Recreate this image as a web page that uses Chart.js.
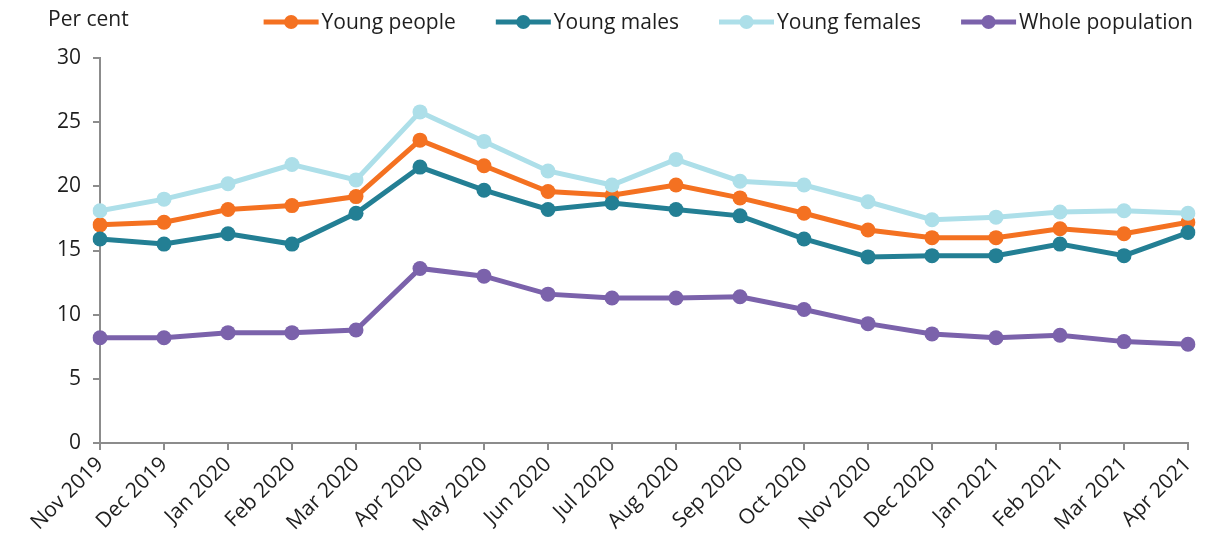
<!DOCTYPE html>
<html>
<head>
<meta charset="utf-8">
<script src="https://cdn.jsdelivr.net/npm/chart.js@4"></script>
<style>
  html, body { margin: 0; padding: 0; background: #ffffff; }
  #wrap { width: 1213px; height: 543px; position: relative; }
</style>
</head>
<body>
<div id="wrap"><canvas id="c" width="1213" height="543"></canvas></div>
<script>
const categories = ['Nov 2019','Dec 2019','Jan 2020','Feb 2020','Mar 2020','Apr 2020','May 2020','Jun 2020','Jul 2020','Aug 2020','Sep 2020','Oct 2020','Nov 2020','Dec 2020','Jan 2021','Feb 2021','Mar 2021','Apr 2021'];
const youngPeople     = [17.0,17.2,18.2,18.5,19.2,23.6,21.6,19.6,19.3,20.1,19.1,17.9,16.6,16.0,16.0,16.7,16.3,17.2];
const youngMales      = [15.9,15.5,16.3,15.5,17.9,21.5,19.7,18.2,18.7,18.2,17.7,15.9,14.5,14.6,14.6,15.5,14.6,16.4];
const youngFemales    = [18.1,19.0,20.2,21.7,20.5,25.8,23.5,21.2,20.1,22.1,20.4,20.1,18.8,17.4,17.6,18.0,18.1,17.9];
const wholePopulation = [8.2,8.2,8.6,8.6,8.8,13.6,13.0,11.6,11.3,11.3,11.4,10.4,9.3,8.5,8.2,8.4,7.9,7.7];
const seriesNames = ['Young people','Young males','Young females','Whole population'];
const yTicks = [0,5,10,15,20,25,30];
const yTitle = 'Per cent';

const colors = ['#F47121','#237F94','#ADDFE9','#7B62AB'];
const FONT = '"Open Sans", "Noto Sans", sans-serif';
const FSIZE = 21;
const TEXT = '#1e1e1e';
const AXIS = '#8c8c8c';

function ds(i, data) {
  return {
    label: seriesNames[i], data,
    borderColor: colors[i], backgroundColor: colors[i],
    borderWidth: 5, pointRadius: 7.5, pointHoverRadius: 7.5,
    pointBorderWidth: 0, tension: 0, order: 3 - i
  };
}

const legendPlugin = {
  id: 'customLegend',
  afterDraw(chart) {
    const ctx = chart.ctx;
    ctx.save();
    ctx.font = FSIZE + 'px ' + FONT;
    ctx.textBaseline = 'middle';
    ctx.fillStyle = TEXT;
    // y title
    ctx.textAlign = 'left';
    ctx.fillText(yTitle, chart.chartArea.left - 52, 20);
    // legend
    const markerW = 55, gap = 3, spacing = 40;
    const widths = seriesNames.map(n => markerW + gap + ctx.measureText(n).width);
    const total = widths.reduce((a, b) => a + b, 0) + spacing * (seriesNames.length - 1);
    let x = chart.width - 20 - total;
    const y = 22;
    seriesNames.forEach((n, i) => {
      ctx.strokeStyle = colors[i];
      ctx.lineWidth = 5;
      ctx.lineCap = 'butt';
      ctx.beginPath();
      ctx.moveTo(x, y); ctx.lineTo(x + markerW, y); ctx.stroke();
      ctx.fillStyle = colors[i];
      ctx.beginPath();
      ctx.arc(x + markerW / 2, y, 7, 0, Math.PI * 2); ctx.fill();
      ctx.fillStyle = TEXT;
      ctx.fillText(n, x + markerW + gap, y + 1);
      x += widths[i] + spacing;
    });
    ctx.restore();
  }
};

new Chart(document.getElementById('c'), {
  type: 'line',
  data: {
    labels: categories,
    datasets: [ds(0, youngPeople), ds(1, youngMales), ds(2, youngFemales), ds(3, wholePopulation)]
  },
  options: {
    responsive: false, animation: false,
    layout: { padding: { top: 58, right: 25, left: 0, bottom: 0 } },
    plugins: { legend: { display: false }, tooltip: { enabled: false } },
    scales: {
      x: {
        offset: false,
        grid: { display: true, drawOnChartArea: false, drawTicks: true, tickLength: 7, color: AXIS, lineWidth: 2 },
        border: { display: true, color: AXIS, width: 2 },
        ticks: { autoSkip: false, minRotation: 45, maxRotation: 45, padding: 2, color: TEXT, font: { family: FONT, size: FSIZE } },
        afterFit(s) { s.height = 100; }
      },
      y: {
        min: 0, max: 30,
        afterBuildTicks(s) { s.ticks = yTicks.map(v => ({ value: v })); },
        grid: { display: true, drawOnChartArea: false, drawTicks: true, tickLength: 7, color: AXIS, lineWidth: 2 },
        border: { display: true, color: AXIS, width: 2 },
        ticks: { padding: 12, color: TEXT, font: { family: FONT, size: FSIZE } },
        afterFit(s) { s.width = 100; }
      }
    }
  },
  plugins: [legendPlugin]
});
</script>
</body>
</html>
